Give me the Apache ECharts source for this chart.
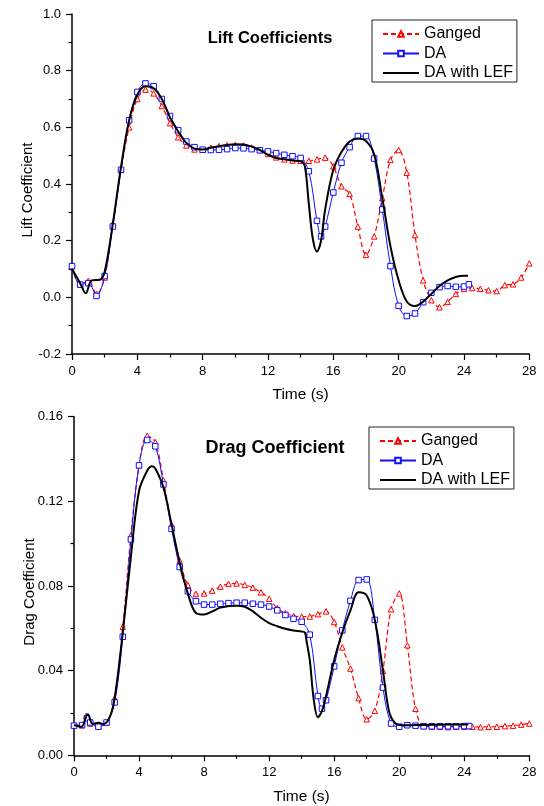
<!DOCTYPE html>
<html>
<head>
<meta charset="utf-8">
<script src="https://cdn.jsdelivr.net/npm/echarts@6/dist/echarts.min.js"></script>
<style>
  html, body { margin: 0; padding: 0; background: #fff; }
  .panel { width: 544px; height: 403px; }
</style>
</head>
<body>
<div id="lift" class="panel"></div>
<div id="drag" class="panel"></div>
<script>
// ---- Lift coefficient histories ----
const gangedLiftTime = [0, 0.5, 1, 1.5, 2, 2.5, 3, 3.5, 4, 4.5, 5, 5.5, 6, 6.5, 7, 7.5, 8, 8.5, 9, 9.5,
  10, 10.5, 11, 11.5, 12, 12.5, 13, 13.5, 14, 14.5, 15, 15.5, 16, 16.5, 17, 17.5, 18, 18.5, 19, 19.5,
  20, 20.5, 21, 21.5, 22, 22.5, 23, 23.5, 24, 24.5, 25, 25.5, 26, 26.5, 27, 27.5, 28];
const gangedLift = [0.11, 0.045, 0.058, 0.012, 0.07, 0.26, 0.45, 0.60, 0.70, 0.733, 0.72, 0.675, 0.615, 0.565, 0.536, 0.522, 0.521, 0.528, 0.534, 0.537,
  0.538, 0.536, 0.529, 0.52, 0.506, 0.494, 0.487, 0.483, 0.482, 0.482, 0.487, 0.493, 0.462, 0.392, 0.365, 0.25, 0.15, 0.215, 0.35, 0.485,
  0.52, 0.44, 0.22, 0.06, -0.01, -0.035, -0.016, 0.012, 0.03, 0.033, 0.03, 0.025, 0.022, 0.043, 0.046, 0.07, 0.12];

const daLiftTime = [0, 0.5, 1, 1.5, 2, 2.5, 3, 3.5, 4, 4.5, 5, 5.5, 6, 6.5, 7, 7.5, 8, 8.5, 9, 9.5,
  10, 10.5, 11, 11.5, 12, 12.5, 13, 13.5, 14, 14.5, 15, 15.25, 15.5, 16, 16.5, 17, 17.5, 18, 18.5, 19, 19.5,
  20, 20.5, 21, 21.5, 22, 22.5, 23, 23.5, 24, 24.3];
const daLift = [0.11, 0.045, 0.05, 0.005, 0.075, 0.25, 0.45, 0.625, 0.725, 0.755, 0.745, 0.70, 0.64, 0.59, 0.55, 0.53, 0.521, 0.52, 0.521, 0.523,
  0.527, 0.526, 0.523, 0.519, 0.515, 0.509, 0.503, 0.498, 0.492, 0.445, 0.27, 0.215, 0.25, 0.37, 0.475, 0.53, 0.569, 0.569, 0.49, 0.31, 0.11,
  -0.03, -0.066, -0.057, -0.017, 0.016, 0.036, 0.04, 0.037, 0.038, 0.046];

const lefLiftTime = [0, 0.5, 0.85, 1.2, 1.7, 2, 2.5, 3, 3.5, 4, 4.5, 5, 5.5, 6, 6.5, 7, 7.5, 8, 8.5, 9, 9.5,
  10, 10.5, 11, 11.5, 12, 12.5, 13, 13.5, 14, 14.25, 14.5, 14.75, 15, 15.25, 15.5, 16, 16.5, 17, 17.5, 18, 18.5, 19, 19.5,
  20, 20.5, 21, 21.5, 22, 22.5, 23, 23.5, 24, 24.25];
const lefLift = [0.10, 0.05, 0.014, 0.06, 0.062, 0.09, 0.26, 0.46, 0.625, 0.715, 0.745, 0.738, 0.70, 0.635, 0.585, 0.545, 0.525, 0.522, 0.528, 0.533, 0.538,
  0.54, 0.539, 0.532, 0.52, 0.503, 0.492, 0.487, 0.483, 0.48, 0.465, 0.33, 0.205, 0.162, 0.2, 0.31, 0.45, 0.513, 0.55, 0.561, 0.552, 0.505, 0.35, 0.18,
  0.06, -0.015, -0.031, -0.015, 0.012, 0.04, 0.06, 0.072, 0.076, 0.076];

// ---- Drag coefficient histories ----
const gangedDragTime = [0, 0.5, 0.75, 1, 1.5, 2, 2.5, 3, 3.5, 4, 4.5, 5, 5.5, 6, 6.5, 7, 7.5, 8, 8.5, 9, 9.5,
  10, 10.5, 11, 11.5, 12, 12.5, 13, 13.5, 14, 14.5, 15, 15.5, 16, 16.5, 17, 17.5, 18, 18.5, 19, 19.5,
  20, 20.5, 21, 21.5, 22, 22.5, 23, 23.5, 24, 24.5, 25, 25.5, 26, 26.5, 27, 27.5, 28];
const gangedDrag = [0.0145, 0.0142, 0.0186, 0.015, 0.0137, 0.0155, 0.027, 0.0607, 0.104, 0.137, 0.151, 0.148, 0.13, 0.109, 0.092, 0.0805, 0.0763, 0.0765, 0.0778, 0.0797, 0.081,
  0.0812, 0.0805, 0.0792, 0.077, 0.074, 0.0695, 0.0672, 0.0658, 0.0655, 0.0656, 0.0667, 0.068, 0.063, 0.051, 0.041, 0.027, 0.017, 0.021, 0.04, 0.069,
  0.0765, 0.052, 0.022, 0.0138, 0.0135, 0.0135, 0.0133, 0.0135, 0.0135, 0.0135, 0.0133, 0.0135, 0.0135, 0.0138, 0.014, 0.0145, 0.015];

const daDragTime = [0, 0.5, 0.8, 1, 1.5, 2, 2.5, 3, 3.5, 4, 4.5, 5, 5.5, 6, 6.5, 7, 7.5, 8, 8.5, 9, 9.5,
  10, 10.5, 11, 11.5, 12, 12.5, 13, 13.5, 14, 14.5, 15, 15.25, 15.5, 16, 16.5, 17, 17.5, 18, 18.5, 19, 19.5,
  20, 20.5, 21, 21.5, 22, 22.5, 23, 23.5, 24, 24.3];
const daDrag = [0.014, 0.0143, 0.0175, 0.0155, 0.0135, 0.0155, 0.025, 0.056, 0.102, 0.137, 0.149, 0.146, 0.128, 0.107, 0.089, 0.0775, 0.0728, 0.0712, 0.0712, 0.0716, 0.0719,
  0.0721, 0.0721, 0.0716, 0.0712, 0.0703, 0.0685, 0.0663, 0.0645, 0.0631, 0.057, 0.028, 0.022, 0.026, 0.042, 0.059, 0.073, 0.0828, 0.0831, 0.064, 0.032, 0.015,
  0.0135, 0.0142, 0.014, 0.0137, 0.0137, 0.0137, 0.0137, 0.0137, 0.0138, 0.0138];

const lefDragTime = [0, 0.45, 0.85, 1.15, 1.5, 1.8, 2.2, 2.5, 3, 3.5, 4, 4.5, 4.8, 5, 5.5, 6, 6.5, 7, 7.5, 8, 8.5, 9, 9.5,
  10, 10.5, 11, 11.5, 12, 12.5, 13, 13.5, 14, 14.2, 14.3, 14.5, 14.75, 15, 15.25, 15.5, 16, 16.5, 17, 17.5, 18, 18.5, 19, 19.25, 19.5,
  20, 20.5, 21, 22, 23, 24, 24.25];
const lefDrag = [0.0143, 0.0135, 0.0194, 0.0148, 0.0154, 0.0148, 0.018, 0.027, 0.058, 0.094, 0.125, 0.1345, 0.1366, 0.1355, 0.1265, 0.109, 0.091, 0.0765, 0.0672, 0.0665, 0.068, 0.0698, 0.0705,
  0.0707, 0.0702, 0.068, 0.065, 0.0625, 0.061, 0.0598, 0.059, 0.0585, 0.058, 0.054, 0.045, 0.026, 0.018, 0.021, 0.028, 0.045, 0.058, 0.0685, 0.077, 0.0755, 0.064, 0.04, 0.026, 0.018,
  0.0143, 0.0142, 0.0143, 0.0144, 0.0145, 0.0146, 0.0146];

// ---- Axis ticks ----
const timeTicks = { min: 0, max: 28, step: 4 };
const liftTicks = { min: -0.2, max: 1.0, step: 0.2, digits: 1 };
const dragTicks = { min: 0, max: 0.16, step: 0.04, digits: 2 };

const FONT = '"Liberation Sans", Arial, Helvetica, sans-serif';
const RED = '#ff0000', BLUE = '#1010ff', BLACK = '#000000';

function pairs(ts, vs) { return ts.map((t, i) => [t, vs[i]]); }

function axisStyle() {
  return {
    nameMoveOverlap: false,
    axisLine: { onZero: false, lineStyle: { color: BLACK, width: 1.5 } },
    axisTick: { length: 6, lineStyle: { color: BLACK, width: 1.2 } },
    minorTick: { show: true, splitNumber: 2, length: 3.5, lineStyle: { color: BLACK, width: 1.2 } },
    splitLine: { show: false },
    minorSplitLine: { show: false }
  };
}

function buildOption(cfg) {
  return {
    animation: false,
    backgroundColor: '#fff',
    textStyle: { fontFamily: FONT, color: BLACK },
    grid: { left: cfg.left, right: 14.7, top: cfg.top, height: cfg.height, outerBoundsMode: 'none' },
    graphic: [{
      type: 'text', x: cfg.titleX, y: cfg.titleY,
      style: {
        text: cfg.title, fill: BLACK,
        font: 'bold ' + cfg.titleSize + 'px ' + FONT,
        align: 'center', verticalAlign: 'middle',
        textAlign: 'center', textVerticalAlign: 'middle'
      }
    }],
    legend: {
      orient: 'vertical', left: cfg.legendLeft, top: cfg.legendTop,
      borderColor: '#222', borderWidth: 1, padding: [6, 4, 1, 10],
      itemGap: 3.5, itemWidth: 36, itemHeight: 7,
      textStyle: { fontSize: 16, fontFamily: FONT, color: BLACK },
      data: [{ name: 'Ganged' }, { name: 'DA' }, { name: 'DA with LEF', itemStyle: { opacity: 0 } }]
    },
    xAxis: Object.assign({
      type: 'value', min: timeTicks.min, max: timeTicks.max, interval: timeTicks.step,
      name: 'Time (s)', nameLocation: 'middle', nameGap: 33,
      nameTextStyle: { fontSize: 15.5, fontFamily: FONT, color: BLACK },
      axisLabel: { fontSize: 13, margin: 11, color: BLACK, fontFamily: FONT }
    }, axisStyle()),
    yAxis: Object.assign({
      type: 'value', min: cfg.ticks.min, max: cfg.ticks.max, interval: cfg.ticks.step,
      name: cfg.yName, nameLocation: 'middle', nameGap: 37,
      nameTextStyle: { fontSize: 15, fontFamily: FONT, color: BLACK, padding: [0, 12, 0, 0] },
      axisLabel: {
        fontSize: 13, margin: 11, color: BLACK, fontFamily: FONT,
        formatter: v => v.toFixed(cfg.ticks.digits)
      }
    }, axisStyle()),
    series: [
      {
        name: 'Ganged', type: 'line', data: pairs(cfg.ganged[0], cfg.ganged[1]),
        smooth: 0.35, symbol: 'triangle', symbolSize: 5.5, showSymbol: true,
        lineStyle: { color: RED, width: 1.2, type: [5, 3] },
        itemStyle: { color: '#fff', borderColor: RED, borderWidth: 1 },
        emphasis: { disabled: true }, z: 2
      },
      {
        name: 'DA', type: 'line', data: pairs(cfg.da[0], cfg.da[1]),
        smooth: 0.35, symbol: 'rect', symbolSize: 5.5, showSymbol: true,
        lineStyle: { color: BLUE, width: 1 },
        itemStyle: { color: '#fff', borderColor: BLUE, borderWidth: 1 },
        emphasis: { disabled: true }, z: 3
      },
      {
        name: 'DA with LEF', type: 'line', data: pairs(cfg.lef[0], cfg.lef[1]),
        smooth: 0.35, symbol: 'none',
        lineStyle: { color: BLACK, width: 2 },
        itemStyle: { color: BLACK },
        emphasis: { disabled: true }, z: 4
      }
    ]
  };
}

echarts.init(document.getElementById('lift'), null, { renderer: 'canvas' }).setOption(buildOption({
  left: 72, top: 14, height: 340,
  title: 'Lift Coefficients', titleX: 270, titleY: 38, titleSize: 16.5,
  legendLeft: 372, legendTop: 20,
  ticks: liftTicks, yName: 'Lift Coefficient',
  ganged: [gangedLiftTime, gangedLift], da: [daLiftTime, daLift], lef: [lefLiftTime, lefLift]
}));

echarts.init(document.getElementById('drag'), null, { renderer: 'canvas' }).setOption(buildOption({
  left: 74, top: 13.7, height: 338.6,
  title: 'Drag Coefficient', titleX: 275, titleY: 45.5, titleSize: 18,
  legendLeft: 369, legendTop: 24,
  ticks: dragTicks, yName: 'Drag Coefficient',
  ganged: [gangedDragTime, gangedDrag], da: [daDragTime, daDrag], lef: [lefDragTime, lefDrag]
}));
</script>
</body>
</html>
